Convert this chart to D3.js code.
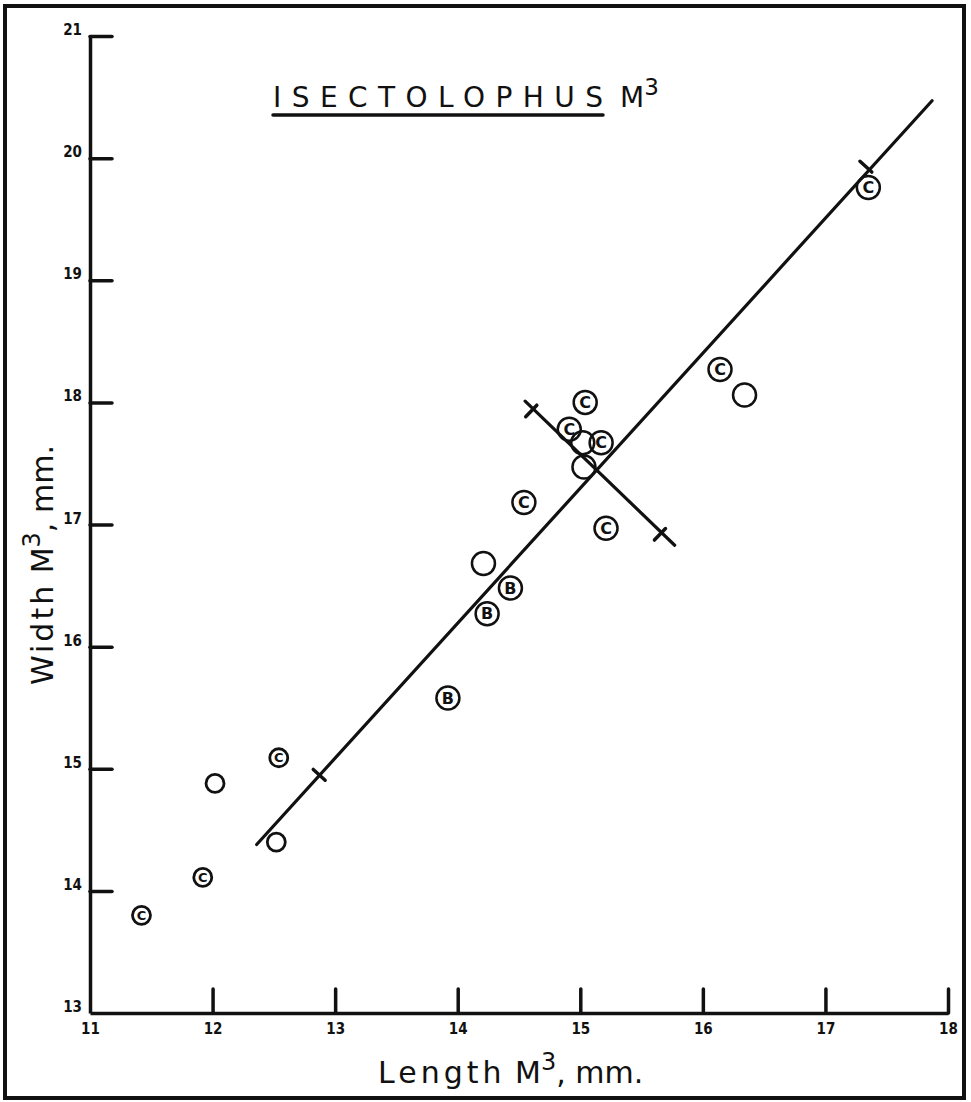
<!DOCTYPE html>
<html>
<head>
<meta charset="utf-8">
<script src="https://cdn.jsdelivr.net/npm/d3@7"></script>
<style>
  body { margin: 0; background: #fff; }
  text { font-family: "DejaVu Sans", sans-serif; fill: #111; }
</style>
</head>
<body>
<div id="chart"></div>
<script>
const lengths = [11.42, 11.92, 12.02, 12.54, 12.52, 13.92, 14.24, 14.43, 14.21, 14.54, 14.91, 15.04, 15.02, 15.17, 15.03, 15.21, 16.14, 16.34, 17.35];
const widths  = [13.80, 14.11, 14.88, 15.09, 14.40, 15.58, 16.27, 16.48, 16.68, 17.18, 17.78, 18.00, 17.67, 17.67, 17.47, 16.97, 18.27, 18.06, 19.76];
const marks   = ["C", "C", "", "C", "", "B", "B", "B", "", "C", "C", "C", "", "C", "", "C", "C", "", "C"];

// reduced major axis line and its crossbars
const fitX = [12.36, 17.87];
const fitY = [14.38, 20.47];
const fitTickX = [12.87, 17.33];
const fitTickY = [14.95, 19.93];

// minor axis line through the centroid
const crossX = [14.55, 15.77];
const crossY = [18.01, 16.83];
const crossTickX = [14.60, 15.65];
const crossTickY = [17.93, 16.92];

const xTicks = [11, 12, 13, 14, 15, 16, 17, 18];
const yTicks = [13, 14, 15, 16, 17, 18, 19, 20, 21];

var width = 971, height = 1102;

var svg = d3.select("#chart").append("svg")
  .attr("width", width)
  .attr("height", height);

// outer frame
svg.append("rect")
  .attr("x", 5).attr("y", 6)
  .attr("width", 959).attr("height", 1092)
  .attr("fill", "none").attr("stroke", "#111").attr("stroke-width", 4);

var x = d3.scaleLinear().domain([11, 18]).range([90, 948]);
var y = d3.scaleLinear().domain([13, 21]).range([1013, 36]);

// axes, ticks pointing into the plot
var gx = svg.append("g")
  .attr("transform", "translate(0," + y(13) + ")")
  .call(d3.axisBottom(x).tickValues(xTicks).tickSize(-24).tickSizeOuter(0).tickPadding(10)
    .tickFormat(d3.format("d")));
var gy = svg.append("g")
  .attr("transform", "translate(" + x(11) + ",0)")
  .call(d3.axisLeft(y).tickValues(yTicks).tickSize(-22).tickSizeOuter(0).tickPadding(8)
    .tickFormat(d3.format("d")));

[gx, gy].forEach(function(g) {
  g.select(".domain").attr("stroke", "#111").attr("stroke-width", 3.5);
  g.selectAll(".tick line").attr("stroke", "#111").attr("stroke-width", 3.5)
    .attr("stroke-linecap", "round");
  g.selectAll(".tick text")
    .style("font-family", "'DejaVu Sans Condensed', 'DejaVu Sans', sans-serif")
    .style("font-weight", "bold").style("font-size", "15px").attr("fill", "#111");
});
gy.selectAll(".tick text").attr("dy", "-0.1em");
gy.selectAll(".tick").filter(d => d == 13).select("line").remove();
gx.selectAll(".tick").filter(d => d == 11).select("line").remove();

// title
var title = svg.append("g");
title.append("text")
  .attr("x", 273).attr("y", 107)
  .attr("textLength", 330).attr("lengthAdjust", "spacing")
  .style("font-size", "28px")
  .text("ISECTOLOPHUS");
title.append("line")
  .attr("x1", 273).attr("x2", 603).attr("y1", 115).attr("y2", 115)
  .attr("stroke", "#111").attr("stroke-width", 3.5).attr("stroke-linecap", "round");
var tm = title.append("text").attr("x", 620).attr("y", 107).style("font-size", "28px");
tm.append("tspan").text("M");
tm.append("tspan").attr("dy", -12).style("font-size", "23px").text("3");

// axis titles
var xl = svg.append("text").attr("x", 378).attr("y", 1083).style("font-size", "30px");
xl.append("tspan").attr("letter-spacing", "4px").text("Length");
xl.append("tspan").text(" M");
xl.append("tspan").attr("dy", -13).style("font-size", "24px").text("3");
xl.append("tspan").attr("dy", 13).text(", mm.");

var yl = svg.append("text")
  .attr("transform", "translate(53,685) rotate(-90)")
  .style("font-size", "30px");
yl.append("tspan").attr("letter-spacing", "3px").text("Width");
yl.append("tspan").text(" M");
yl.append("tspan").attr("dy", -13).style("font-size", "24px").text("3");
yl.append("tspan").attr("dy", 13).text(", mm.");

// lines
var lineGen = d3.line().x(d => x(d[0])).y(d => y(d[1]));
function drawLine(xs, ys) {
  svg.append("path")
    .attr("d", lineGen(d3.zip(xs, ys)))
    .attr("fill", "none").attr("stroke", "#111").attr("stroke-width", 3.2)
    .attr("stroke-linecap", "round");
}
function drawBars(xs, ys, lx, ly) {
  // crossbars perpendicular to the line they sit on
  var ang = Math.atan2(y(ly[1]) - y(ly[0]), x(lx[1]) - x(lx[0]));
  xs.forEach(function(v, i) {
    var cx = x(v), cy = y(ys[i]), h = 8;
    var dx = -Math.sin(ang) * h, dy = Math.cos(ang) * h;
    svg.append("line")
      .attr("x1", cx - dx).attr("y1", cy - dy).attr("x2", cx + dx).attr("y2", cy + dy)
      .attr("stroke", "#111").attr("stroke-width", 3.5).attr("stroke-linecap", "round");
  });
}
drawLine(fitX, fitY);
drawBars(fitTickX, fitTickY, fitX, fitY);
drawLine(crossX, crossY);
drawBars(crossTickX, crossTickY, crossX, crossY);

// specimens: smaller template used for the left group
var pts = svg.selectAll(".pt")
  .data(d3.range(lengths.length))
  .enter().append("g")
  .attr("transform", i => "translate(" + x(lengths[i]) + "," + y(widths[i]) + ")");

pts.append("circle")
  .attr("r", i => lengths[i] < 13 ? 9 : 11.5)
  .attr("fill", "none").attr("stroke", "#111")
  .attr("stroke-width", i => lengths[i] < 13 ? 2.8 : 2.5);

pts.append("text")
  .attr("text-anchor", "middle")
  .attr("dy", "0.36em")
  .style("font-size", i => lengths[i] < 13 ? "13px" : "16px")
  .style("font-weight", "bold")
  .text(i => marks[i]);
</script>
</body>
</html>
